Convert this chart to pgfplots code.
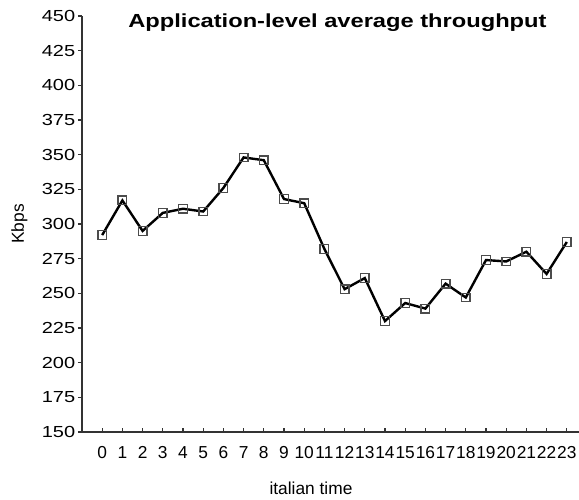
\documentclass[border=0pt]{standalone}
\usepackage{fontspec}
\setmainfont{Liberation Sans}
\newfontfamily\stretchfont{Liberation Sans}[FakeStretch=1.25]
\usepackage{pgfplots}
\pgfplotsset{compat=1.18}
\begin{document}
\begin{tikzpicture}
\begin{axis}[
  scale only axis,
  width=378.75pt, height=312pt,
  at={(0,0)}, anchor=south west,
  xmin=-1, xmax=24, ymin=150, ymax=450,
  axis lines=left,
  axis line style={black!80, line width=0.9pt, -},
  xtick={0,...,23},
  ytick={150,175,...,450},
  tick align=inside,
  major tick length=3pt,
  tick style={black!80, line width=0.8pt},
  ytick style={xshift=-3pt},
  /pgf/number format/assume math mode=true,
  xticklabel style={font=\fontsize{13pt}{15pt}\selectfont, yshift=-7.4pt},
  yticklabel style={font=\stretchfont\fontsize{12pt}{14pt}\selectfont, xshift=-1.6pt},
  title={Application-level average throughput},
  title style={font=\stretchfont\bfseries\fontsize{14.2pt}{16pt}\selectfont, at={(axis description cs:0,1)}, xshift=191.6pt, yshift=-14.8pt, anchor=base},
  xlabel={italian time},
  ylabel={Kbps},
  every axis x label/.style={at={(axis description cs:0,0)}, xshift=171.75pt, yshift=-42pt, anchor=center, font=\fontsize{13pt}{15pt}\selectfont},
  every axis y label/.style={at={(axis description cs:0,0.5)}, xshift=-47pt, rotate=90, anchor=center, font=\fontsize{13pt}{15pt}\selectfont},
  clip=false,
]
\addplot[black, line width=1.8pt, mark=square, mark size=3.2pt,
  mark options={draw=black!70, line width=1pt, fill=none, solid}]
  table[x=h, y=v] {
h v
0 292
1 317
2 295
3 308
4 311
5 309
6 326
7 348
8 346
9 318
10 315
11 282
12 253
13 261
14 230
15 243
16 239
17 257
18 247
19 274
20 273
21 280
22 264
23 287
};
\end{axis}
\pgfresetboundingbox
\path[use as bounding box] (-61.5pt,-51pt) rectangle (372.75pt,324pt);
\end{tikzpicture}
\end{document}
